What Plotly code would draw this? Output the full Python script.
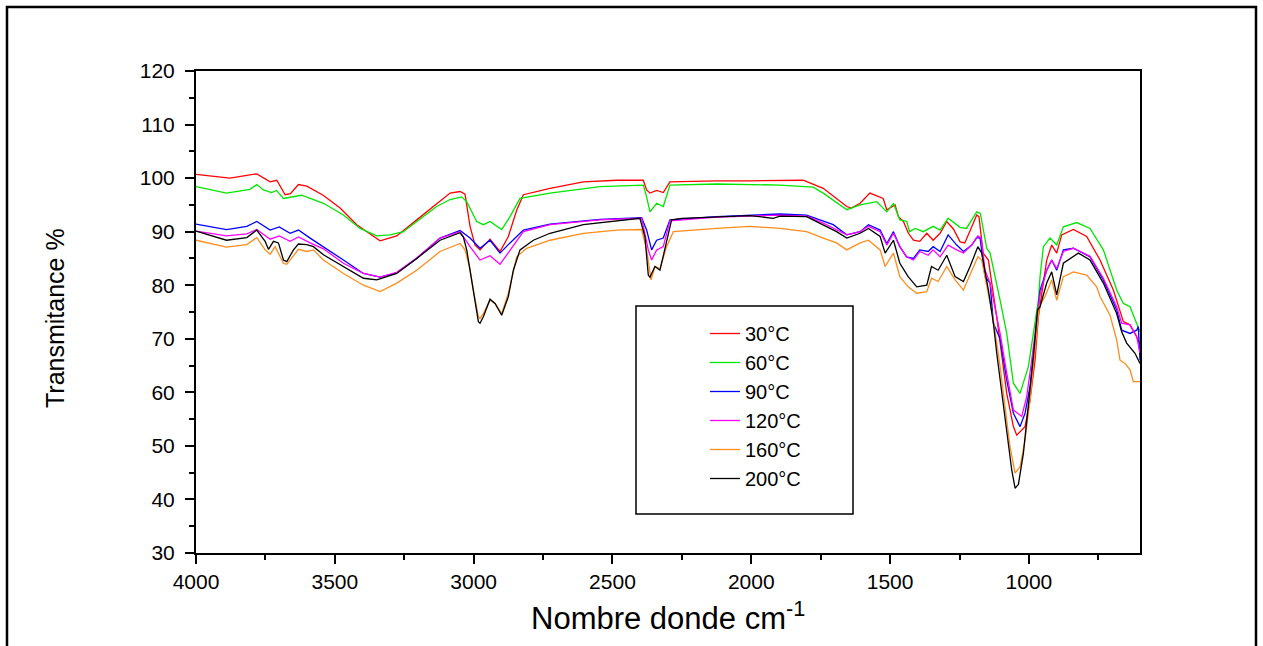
import plotly.graph_objects as go

# FTIR spectra: (wavenumber cm-1, transmittance %)
s30 = [(4000,100.7),(3878,100.0),(3781,100.8),(3733,99.3),(3709,99.6),(3679,96.9),(3660,97.1),(3631,98.8),
       (3601,98.5),(3542,96.8),(3481,94.4),(3421,91.3),(3337,88.3),(3277,89.2),(3205,92.2),(3133,95.3),
       (3085,97.2),(3049,97.5),(3031,97.0),(3013,91.0),(2995,87.5),(2977,86.6),(2941,88.6),(2905,86.3),
       (2875,89.1),(2845,94.0),(2821,96.9),(2725,98.1),(2605,99.3),(2485,99.6),(2389,99.6),(2377,97.8),
       (2365,97.2),(2341,97.7),(2317,97.3),(2293,99.3),(2125,99.5),(2005,99.5),(1897,99.6),(1813,99.6),
       (1741,98.1),(1656,94.7),(1640,94.4),(1608,95.3),(1573,97.2),(1525,96.2),(1512,94.1),(1482,95.0),
       (1470,92.8),(1452,91.9),(1434,89.7),(1416,88.4),(1393,88.2),(1368,89.7),(1345,88.4),(1320,89.7),
       (1296,91.9),(1272,90.5),(1248,88.1),(1231,87.9),(1206,90.9),(1188,93.1),(1180,92.8),(1165,86.0),
       (1146,84.7),(1116,74.1),(1080,59.8),(1056,53.6),(1044,52.0),(1014,53.6),(996,58.6),(978,66.0),
       (966,74.1),(948,80.4),(936,84.7),(918,87.5),(900,86.0),(882,89.4),(840,90.4),(792,89.1),
       (744,84.7),(696,79.1),(660,73.2),(636,72.6),(612,70.4),(600,69.0)]

s60 = [(4000,98.4),(3890,97.2),(3840,97.6),(3806,97.9),(3781,98.8),(3757,97.8),(3728,97.3),(3710,97.7),
       (3685,96.2),(3649,96.5),(3620,96.8),(3541,95.3),(3469,93.1),(3409,90.6),(3349,89.2),(3301,89.4),
       (3253,90.0),(3205,91.9),(3133,94.7),(3085,96.0),(3043,96.5),(3025,95.6),(3013,94.4),(2989,91.9),
       (2965,91.3),(2941,91.9),(2899,90.4),(2869,92.8),(2833,96.2),(2725,97.2),(2545,98.4),(2389,98.7),
       (2377,96.5),(2365,93.7),(2341,95.3),(2317,94.7),(2293,98.7),(2125,98.9),(1897,98.7),(1777,98.3),
       (1741,97.2),(1656,94.1),(1608,95.0),(1548,95.6),(1512,93.7),(1488,95.3),(1465,92.2),(1440,91.9),
       (1430,90.0),(1410,90.6),(1381,90.0),(1345,91.0),(1320,90.3),(1291,92.5),(1248,90.8),(1225,90.6),
       (1188,93.7),(1175,93.4),(1152,86.9),(1140,86.0),(1104,77.2),(1080,71.0),(1056,61.7),(1032,59.8),
       (1002,64.8),(984,71.0),(966,77.2),(960,81.6),(948,87.2),(924,88.8),(900,87.5),(876,90.9),
       (828,91.7),(780,90.6),(732,86.6),(684,79.1),(660,76.6),(636,76.0),(612,72.9),(600,71.3)]

s90 = [(4000,91.4),(3890,90.4),(3817,91.0),(3781,91.9),(3733,90.3),(3700,90.9),(3661,89.7),(3631,90.3),
       (3589,88.8),(3541,87.2),(3469,84.7),(3397,82.2),(3337,81.5),(3277,82.3),(3205,85.0),(3121,88.8),
       (3049,90.2),(3013,88.8),(2977,86.9),(2941,88.4),(2905,86.0),(2869,87.9),(2821,90.3),(2725,91.4),
       (2545,92.3),(2395,92.6),(2377,90.3),(2359,86.6),(2341,88.4),(2317,88.8),(2293,92.2),(2125,92.8),
       (2005,93.1),(1897,93.3),(1801,93.1),(1741,91.9),(1705,91.3),(1656,89.4),(1608,90.0),(1578,91.3),
       (1536,90.3),(1512,87.8),(1488,90.0),(1465,87.2),(1441,85.3),(1416,85.0),(1393,86.6),(1363,86.3),
       (1345,87.2),(1320,86.3),(1291,89.4),(1260,87.5),(1236,86.3),(1206,87.5),(1188,88.9),(1176,88.8),
       (1158,81.6),(1140,80.4),(1128,72.9),(1104,70.0),(1080,62.3),(1056,56.1),(1032,53.6),(1014,56.1),
       (996,61.1),(978,69.8),(966,76.0),(960,79.1),(936,82.8),(918,84.7),(900,82.8),(876,86.6),
       (840,86.9),(780,85.3),(732,81.0),(684,75.4),(666,71.6),(636,71.0),(612,71.6),(606,72.3),(600,66.0)]

s120 = [(4000,90.1),(3890,89.2),(3817,89.6),(3781,90.4),(3733,88.6),(3700,89.2),(3661,88.2),(3631,89.0),
        (3589,87.9),(3541,86.8),(3469,84.1),(3397,82.2),(3337,81.5),(3277,82.4),(3205,85.1),(3121,88.8),
        (3049,90.0),(3013,87.2),(2977,84.7),(2941,85.5),(2905,83.9),(2869,86.6),(2821,90.0),(2725,91.3),
        (2545,92.2),(2395,92.5),(2371,86.6),(2359,84.7),(2341,86.6),(2317,87.2),(2293,92.0),(2125,92.7),
        (1897,93.1),(1801,92.9),(1741,91.6),(1656,89.4),(1608,90.0),(1578,91.0),(1536,90.0),(1512,87.5),
        (1488,89.7),(1465,87.2),(1441,85.3),(1416,84.7),(1393,86.3),(1363,85.6),(1345,86.6),(1320,85.3),
        (1291,87.5),(1260,86.6),(1236,86.0),(1206,87.5),(1184,89.2),(1172,88.8),(1158,82.8),(1140,80.4),
        (1104,71.0),(1080,63.6),(1056,56.7),(1026,55.5),(1008,59.2),(990,66.0),(972,74.1),(960,78.3),
        (936,82.8),(918,84.7),(900,83.1),(876,86.3),(840,86.9),(780,85.4),(732,81.3),(684,76.0),
        (666,72.9),(636,72.6),(612,70.4),(600,67.3)]

s160 = [(4000,88.4),(3890,87.1),(3817,87.6),(3781,88.9),(3751,86.6),(3733,85.8),(3715,87.2),(3685,84.1),
        (3673,83.9),(3649,85.5),(3631,86.7),(3601,86.3),(3577,86.6),(3541,84.7),(3469,82.2),(3397,80.0),
        (3337,78.8),(3277,80.4),(3205,82.8),(3121,86.3),(3049,87.8),(3031,86.6),(3013,83.0),(3001,79.1),
        (2983,74.1),(2977,73.8),(2965,74.7),(2941,77.2),(2923,76.6),(2899,74.7),(2875,78.5),(2845,85.3),
        (2809,86.9),(2725,88.4),(2605,89.7),(2485,90.3),(2395,90.4),(2377,86.6),(2361,81.0),(2347,83.5),
        (2329,83.1),(2305,87.2),(2281,90.0),(2125,90.6),(2005,91.0),(1897,90.6),(1801,90.0),(1741,88.8),
        (1693,87.9),(1656,86.6),(1608,87.9),(1578,88.4),(1536,86.6),(1518,83.5),(1488,86.0),(1465,81.6),
        (1435,79.7),(1404,78.5),(1368,78.8),(1351,81.3),(1327,80.7),(1296,83.5),(1266,81.0),(1236,79.1),
        (1212,81.9),(1184,85.3),(1170,84.7),(1146,78.5),(1128,73.5),(1104,64.8),(1086,56.7),(1068,49.8),
        (1050,44.9),(1032,46.1),(1014,51.1),(996,58.6),(978,67.9),(963,76.0),(942,77.9),(918,81.0),
        (900,77.2),(876,81.6),(840,82.5),(792,81.9),(756,79.7),(744,77.9),(708,74.4),(684,69.8),
        (672,66.0),(654,65.4),(636,64.2),(624,62.0),(600,62.0)]

s200 = [(4000,90.1),(3890,88.4),(3817,88.9),(3781,90.3),(3751,88.2),(3739,86.7),(3721,88.2),(3703,87.9),
        (3685,84.7),(3673,84.4),(3649,86.6),(3631,87.7),(3601,87.6),(3577,87.2),(3541,85.7),(3469,83.5),
        (3397,81.3),(3349,81.0),(3277,82.2),(3205,85.0),(3121,88.4),(3049,89.8),(3037,89.0),(3025,86.6),
        (3001,79.1),(2983,73.2),(2977,72.9),(2965,74.1),(2941,77.4),(2923,76.6),(2899,74.4),(2875,77.9),
        (2857,82.8),(2833,86.6),(2785,88.4),(2725,89.7),(2605,91.3),(2485,92.0),(2401,92.5),(2383,89.0),
        (2371,81.9),(2365,81.5),(2347,83.5),(2329,82.8),(2305,88.4),(2287,92.2),(2250,92.5),(2125,92.7),
        (2005,93.0),(1921,92.5),(1897,92.9),(1801,92.8),(1741,91.3),(1693,90.0),(1656,88.8),(1608,89.7),
        (1578,90.6),(1536,89.1),(1518,86.0),(1488,88.4),(1465,84.1),(1435,81.6),(1404,79.7),(1368,80.0),
        (1351,83.5),(1327,82.8),(1296,85.6),(1266,81.6),(1236,80.7),(1212,83.5),(1184,87.2),(1170,86.0),
        (1146,79.1),(1128,72.9),(1116,67.3),(1098,59.8),(1080,52.3),(1062,45.5),(1050,42.1),(1038,42.8),
        (1020,48.6),(1002,57.3),(984,66.7),(969,75.4),(960,76.0),(936,80.4),(918,82.5),(900,78.2),
        (876,84.1),(822,86.0),(780,84.7),(732,80.4),(684,74.7),(666,71.3),(648,69.2),(618,67.3),(600,65.4)]

series_names = ["30°C", "60°C", "90°C", "120°C", "160°C", "200°C"]
series_data = [s30, s60, s90, s120, s160, s200]
series_colors = ["#ff0000", "#00e600", "#0000ff", "#ff00ff", "#ff8c1a", "#000000"]

x_ticks = [4000, 3500, 3000, 2500, 2000, 1500, 1000]
y_ticks = [30, 40, 50, 60, 70, 80, 90, 100, 110, 120]

fig = go.Figure()
for name, data, color in zip(series_names, series_data, series_colors):
    wn, tr = zip(*data)
    fig.add_trace(go.Scatter(x=list(wn), y=list(tr), mode="lines", name=name,
                             line=dict(color=color, width=1.3)))

L, R, T, B = 196, 1140, 71, 553
W, H = 1263, 646
pw, ph = R - L, B - T

def px(xp):
    return (xp - L) / pw

def py(yp):
    return (B - yp) / ph

font_main = "Liberation Sans, Arial, sans-serif"

fig.update_layout(
    width=W, height=H,
    margin=dict(l=L, r=W - R, t=T, b=H - B),
    paper_bgcolor="white", plot_bgcolor="white",
    font=dict(family=font_main, color="black"),
    showlegend=True,
    legend=dict(x=px(705), y=py(314), xanchor="left", yanchor="top",
                bgcolor="rgba(0,0,0,0)", borderwidth=0,
                font=dict(size=20, family=font_main, color="black"),
                tracegroupgap=0),
    xaxis=dict(range=[4000, 600], tickvals=x_ticks, ticktext=[str(v) for v in x_ticks],
               showline=True, linecolor="black", linewidth=2, mirror=True,
               ticks="outside", ticklen=9, tickwidth=2, tickcolor="black",
               minor=dict(ticks="outside", ticklen=5, tickwidth=2, dtick=250, tickcolor="black"),
               showgrid=False, zeroline=False,
               tickfont=dict(size=21, family=font_main, color="black")),
    yaxis=dict(range=[30, 120], tickvals=y_ticks, ticktext=[str(v) for v in y_ticks],
               showline=True, linecolor="black", linewidth=2, mirror=True,
               ticks="outside", ticklen=9, tickwidth=2, tickcolor="black",
               ticklabelstandoff=6,
               minor=dict(ticks="outside", ticklen=5, tickwidth=2, dtick=5, tickcolor="black"),
               showgrid=False, zeroline=False,
               tickfont=dict(size=21, family=font_main, color="black")),
    annotations=[
        dict(text="Transmitance %", xref="paper", yref="paper", x=px(55), y=py(318),
             textangle=-90, showarrow=False, xanchor="center", yanchor="middle",
             font=dict(size=25, family=font_main, color="black")),
        dict(text="Nombre donde cm<sup>-1</sup>", xref="paper", yref="paper", x=px(668), y=py(616),
             showarrow=False, xanchor="center", yanchor="middle",
             font=dict(size=31, family=font_main, color="black")),
    ],
    shapes=[
        # legend box
        dict(type="rect", xref="paper", yref="paper", x0=px(636), x1=px(853), y0=py(514), y1=py(306),
             line=dict(color="black", width=1.5), fillcolor="rgba(0,0,0,0)", layer="above"),
        # outer frame
        dict(type="rect", xref="paper", yref="paper", x0=px(7), x1=px(1256), y0=py(680), y1=py(7),
             line=dict(color="black", width=2.5), fillcolor="rgba(0,0,0,0)", layer="above"),
    ],
)

fig.write_html("out.html")
